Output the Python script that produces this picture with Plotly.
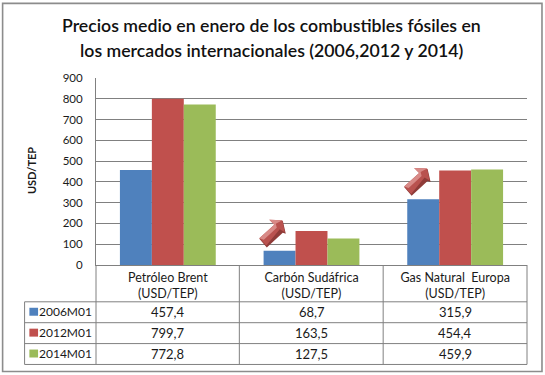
import plotly.graph_objects as go

title_lines = ["Precios medio en enero de los combustibles fósiles en",
               "los mercados internacionales (2006,2012 y 2014)"]
categories = ["Petróleo Brent<br>(USD/TEP)", "Carbón Sudáfrica<br>(USD/TEP)", "Gas Natural  Europa<br>(USD/TEP)"]
series_names = ["2006M01", "2012M01", "2014M01"]
v2006 = [457.4, 68.7, 315.9]
v2012 = [799.7, 163.5, 454.4]
v2014 = [772.8, 127.5, 459.9]
series_colors = ["#4F81BD", "#C0504D", "#9BBB59"]
y_ticks = [0, 100, 200, 300, 400, 500, 600, 700, 800, 900]

W, H = 545, 375
L, R, T, B = 96, 527.5, 77.5, 265.5
GRAY = "#808080"
TXT = "#1a1a1a"
FONT = "Lato, Carlito, Calibri, sans-serif"

def px(x):
    return (x - L) / (R - L)

def py(y):
    return 1 - (y - T) / (B - T)

all_vals = [v2006, v2012, v2014]
fig = go.Figure()
for name, vals, col in zip(series_names, all_vals, series_colors):
    fig.add_bar(x=[0, 1, 2], y=vals, name=name, marker=dict(color=col, line=dict(width=0)))

shapes = []
annots = []

def line(x0, y0, x1, y1, w=1):
    shapes.append(dict(type="line", xref="paper", yref="paper", x0=px(x0), x1=px(x1),
                       y0=py(y0), y1=py(y1), line=dict(color=GRAY, width=w), layer="above"))

# Outer frame
shapes.append(dict(type="rect", xref="paper", yref="paper", x0=px(2.5), x1=px(542.5), y0=py(2.5), y1=py(372.5),
                   line=dict(color="#8c8c8c", width=1.6), fillcolor="rgba(0,0,0,0)", layer="below"))

# Table grid
rows = [302.5, 323.5, 344.5, 365.5]
cols = [96, 239.5, 383.5, 527.5]
for r in rows:
    line(24.5, r, R, r)
line(24.5, rows[0], 24.5, rows[-1])
for c in cols:
    line(c, B, c, rows[-1])

# Table text and swatches
for i, (name, vals, col) in enumerate(zip(series_names, all_vals, series_colors)):
    ymid = (rows[i] + rows[i + 1]) / 2
    shapes.append(dict(type="rect", xref="paper", yref="paper", x0=px(29.3), x1=px(38), y0=py(ymid - 4.5), y1=py(ymid + 3.5),
                       line=dict(width=0), fillcolor=col, layer="above"))
    annots.append(dict(text=name, xref="paper", yref="paper", x=px(37), y=py(ymid - 0.5), xanchor="left", yanchor="middle",
                       showarrow=False, font=dict(family=FONT, size=12, color=TXT)))
    for j, v in enumerate(vals):
        annots.append(dict(text=f"{v:.1f}".replace(".", ","), xref="x", yref="paper", x=j, y=py(ymid), xanchor="center",
                           yanchor="middle", showarrow=False, font=dict(family=FONT, size=13, color=TXT)))

# Title lines
TITLE_FONT = dict(family=FONT, size=17.7, color="#111111", weight=600)
annots.append(dict(text=title_lines[0], xref="paper", yref="paper", x=px(271.5), y=py(25), xanchor="center", yanchor="middle",
                   showarrow=False, font=TITLE_FONT))
annots.append(dict(text=title_lines[1], xref="paper", yref="paper", x=px(271.5), y=py(49.5), xanchor="center", yanchor="middle",
                   showarrow=False, font=TITLE_FONT))
annots.append(dict(text="<b>USD/TEP</b>", xref="paper", yref="paper", x=px(31), y=py(171), textangle=-90, xanchor="center",
                   yanchor="middle", showarrow=False, font=dict(family=FONT, size=11, color=TXT)))

# Decorative arrows
def arrow(dx, dy):
    def pts(seq):
        return "M" + " L".join(f"{px(a + dx):.5f},{py(b + dy):.5f}" for a, b in seq) + " Z"
    shadow = [(259.5, 239), (267, 248), (283, 233), (286, 234), (283, 221), (279, 224), (272, 233)]
    face = [(259.5, 238.5), (274.5, 225), (269.5, 220), (282.5, 220.5), (285, 232.5), (280, 229.5), (266.5, 246)]
    light = [(259.5, 238.5), (274.5, 225), (269.5, 220), (282.5, 220.5), (276, 224), (277, 228), (264, 240)]
    shapes.append(dict(type="path", xref="paper", yref="paper", path=pts(shadow), fillcolor="#8f3b38", line=dict(width=0), layer="above"))
    shapes.append(dict(type="path", xref="paper", yref="paper", path=pts(face), fillcolor="#b9524f", line=dict(width=0), layer="above"))
    shapes.append(dict(type="path", xref="paper", yref="paper", path=pts(light), fillcolor="#d88a87", line=dict(width=0), layer="above"))

arrow(0, 0)
arrow(145, -52)

fig.update_layout(
    width=W, height=H, autosize=False, barmode="group", bargap=0.333, bargroupgap=0,
    margin=dict(l=L, r=W - R, t=T, b=H - B, pad=0),
    paper_bgcolor="white", plot_bgcolor="white", showlegend=False,
    shapes=shapes, annotations=annots,
    font=dict(family=FONT, color=TXT),
)
fig.update_xaxes(range=[-0.5, 2.5], tickmode="array", tickvals=[0, 1, 2], ticktext=categories, ticks="",
                 showgrid=False, zeroline=False, showline=True, linecolor=GRAY, linewidth=1,
                 tickfont=dict(family=FONT, size=12.5, color=TXT), ticklabelstandoff=1, automargin=False)
fig.update_yaxes(range=[0, 900], tickmode="array", tickvals=y_ticks, ticks="", showgrid=True, gridcolor=GRAY, gridwidth=1,
                 zeroline=False, showline=True, linecolor=GRAY, linewidth=1,
                 tickfont=dict(family=FONT, size=11.5, color=TXT), ticklabelstandoff=10, automargin=False)

fig.write_html("out.html", config=dict(displayModeBar=False),
               post_script="document.body.style.margin='0';")
